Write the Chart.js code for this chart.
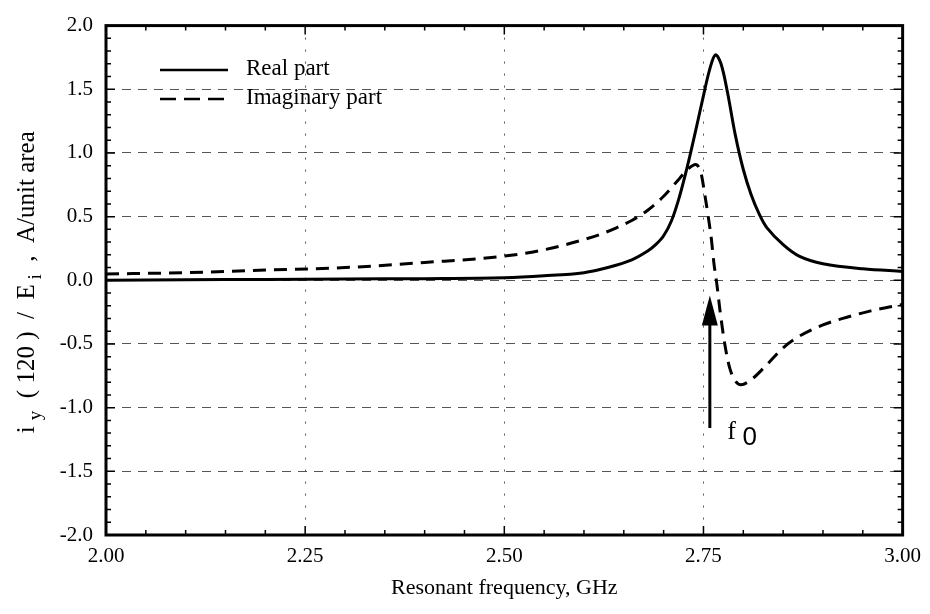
<!DOCTYPE html>
<html>
<head>
<meta charset="utf-8">
<script src="https://cdn.jsdelivr.net/npm/chart.js@4/dist/chart.umd.min.js"></script>
<style>
  html, body { margin: 0; padding: 0; background: #fff; }
  #wrap { width: 930px; height: 614px; }
</style>
</head>
<body>
<div id="wrap"><canvas id="resonance" width="930" height="614"></canvas></div>
<script>
// values (frequency in GHz, current in A/unit area)
const realFreq = [2.00, 2.10, 2.20, 2.30, 2.40, 2.50, 2.55, 2.60, 2.63, 2.66, 2.68, 2.69, 2.70, 2.71, 2.72,
  2.73, 2.74, 2.75, 2.758, 2.765, 2.772, 2.78, 2.79, 2.80, 2.81, 2.82, 2.83, 2.85, 2.87, 2.90, 2.95, 3.00];
const realVal = [0.00, 0.004, 0.007, 0.01, 0.013, 0.02, 0.035, 0.06, 0.10, 0.16, 0.23, 0.28, 0.35, 0.47, 0.66,
  0.90, 1.17, 1.45, 1.66, 1.77, 1.70, 1.48, 1.14, 0.87, 0.67, 0.52, 0.41, 0.28, 0.19, 0.13, 0.09, 0.07];

const imagFreq = [2.00, 2.10, 2.20, 2.30, 2.40, 2.50, 2.55, 2.60, 2.62, 2.64, 2.66, 2.68, 2.70, 2.72, 2.73,
  2.740, 2.747, 2.752, 2.756, 2.760, 2.763, 2.767, 2.771, 2.777, 2.783, 2.790, 2.797, 2.81, 2.83, 2.85,
  2.87, 2.90, 2.93, 2.96, 3.00];
const imagVal = [0.05, 0.06, 0.08, 0.10, 0.14, 0.19, 0.24, 0.32, 0.36, 0.41, 0.47, 0.55, 0.66, 0.80, 0.87,
  0.91, 0.84, 0.66, 0.50, 0.32, 0.14, -0.04, -0.25, -0.51, -0.69, -0.79, -0.82, -0.78, -0.66, -0.53,
  -0.44, -0.35, -0.29, -0.24, -0.19];

const xTickValues = [2.00, 2.25, 2.50, 2.75, 3.00];
const xTickLabels = ['2.00', '2.25', '2.50', '2.75', '3.00'];
const yTickValues = [-2.0, -1.5, -1.0, -0.5, 0.0, 0.5, 1.0, 1.5, 2.0];
const yTickLabels = ['-2.0', '-1.5', '-1.0', '-0.5', '0.0', '0.5', '1.0', '1.5', '2.0'];

const seriesNames = ['Real part', 'Imaginary part'];

// resonance marker f0
const arrowFreq = 2.758;
const arrowTail = -1.16;
const arrowTip = -0.12;

const serif = '"Liberation Serif", "Times New Roman", serif';

function interior(c) {
  return c.index > 0 && c.index < c.chart.scales[c.scale.id].ticks.length - 1 ? '#555' : 'rgba(0,0,0,0)';
}

// frame, inward ticks, legend, titles and the f0 arrow
const decorPlugin = {
  id: 'decor',
  afterDatasetsDraw(chart) {
    const { ctx, chartArea: a, scales: { x, y } } = chart;
    ctx.save();
    ctx.strokeStyle = '#000';
    ctx.fillStyle = '#000';

    // minor + major ticks pointing inward
    ctx.lineWidth = 1.5;
    ctx.beginPath();
    for (let i = 1; i < 20; i++) {
      const px = x.getPixelForValue(2 + i * 0.05);
      const len = i % 5 === 0 ? 9 : 5;
      ctx.moveTo(px, a.bottom); ctx.lineTo(px, a.bottom - len);
      ctx.moveTo(px, a.top); ctx.lineTo(px, a.top + len);
    }
    for (let i = 1; i < 40; i++) {
      const py = y.getPixelForValue(-2 + i * 0.1);
      const len = i % 5 === 0 ? 9 : 5;
      ctx.moveTo(a.left, py); ctx.lineTo(a.left + len, py);
      ctx.moveTo(a.right, py); ctx.lineTo(a.right - len, py);
    }
    ctx.stroke();

    // frame
    ctx.lineWidth = 3;
    ctx.strokeRect(a.left, a.top, a.right - a.left, a.bottom - a.top);

    // arrow to f0
    const ax = x.getPixelForValue(arrowFreq);
    const tipY = y.getPixelForValue(arrowTip);
    const tailY = y.getPixelForValue(arrowTail);
    ctx.lineWidth = 3;
    ctx.beginPath();
    ctx.moveTo(ax, tailY); ctx.lineTo(ax, tipY + 25);
    ctx.stroke();
    ctx.beginPath();
    ctx.moveTo(ax, tipY);
    ctx.lineTo(ax - 8, tipY + 30);
    ctx.lineTo(ax + 8, tipY + 30);
    ctx.closePath();
    ctx.fill();

    ctx.font = '26px ' + serif;
    ctx.textAlign = 'left';
    ctx.textBaseline = 'alphabetic';
    ctx.fillText('f', x.getPixelForValue(2.780), y.getPixelForValue(-1.247));
    ctx.font = '26px "Liberation Sans", Arial, sans-serif';
    ctx.fillText('0', x.getPixelForValue(2.799), y.getPixelForValue(-1.29));

    // legend
    ctx.lineWidth = 2.5;
    ctx.beginPath();
    ctx.moveTo(160, 70); ctx.lineTo(228, 70);
    ctx.stroke();
    ctx.setLineDash([16, 8]);
    ctx.beginPath();
    ctx.moveTo(160, 99); ctx.lineTo(228, 99);
    ctx.stroke();
    ctx.setLineDash([]);
    ctx.font = '23px ' + serif;
    ctx.textBaseline = 'middle';
    ctx.fillText(seriesNames[0], 246, 69);
    ctx.fillText(seriesNames[1], 246, 98);

    // x title
    ctx.font = '22px ' + serif;
    ctx.textAlign = 'center';
    ctx.fillText('Resonant frequency, GHz', (a.left + a.right) / 2, 588);

    // y title with subscripts
    const parts = [
      ['i ', false], ['y', true], ['  ( 120 )  /  E', false], [' i', true], ['  ,  A/unit area', false]
    ];
    const mainFont = '25px ' + serif;
    const subFont = '19px ' + serif;
    let total = 0;
    parts.forEach(([t, sub]) => { ctx.font = sub ? subFont : mainFont; total += ctx.measureText(t).width; });
    ctx.translate(34, (a.top + a.bottom) / 2 + 2);
    ctx.rotate(-Math.PI / 2);
    ctx.textAlign = 'left';
    ctx.textBaseline = 'alphabetic';
    let cx = -total / 2;
    parts.forEach(([t, sub]) => {
      ctx.font = sub ? subFont : mainFont;
      ctx.fillText(t, cx, sub ? 7 : 0);
      cx += ctx.measureText(t).width;
    });
    ctx.restore();
  }
};

new Chart(document.getElementById('resonance'), {
  type: 'line',
  data: {
    datasets: [
      {
        label: seriesNames[0],
        data: realFreq.map((f, i) => ({ x: f, y: realVal[i] })),
        borderColor: '#000',
        borderWidth: 3,
        pointRadius: 0,
        tension: 0.35,
        fill: false
      },
      {
        label: seriesNames[1],
        data: imagFreq.map((f, i) => ({ x: f, y: imagVal[i] })),
        borderColor: '#000',
        borderWidth: 3,
        borderDash: [13, 8],
        pointRadius: 0,
        cubicInterpolationMode: 'monotone',
        fill: false
      }
    ]
  },
  options: {
    responsive: false,
    animation: false,
    layout: { padding: { left: 0, right: 25, top: 20, bottom: 0 } },
    plugins: { legend: { display: false }, tooltip: { enabled: false } },
    scales: {
      x: {
        type: 'linear',
        min: 2, max: 3,
        afterBuildTicks: (s) => { s.ticks = xTickValues.map((v) => ({ value: v })); },
        afterFit: (s) => { s.height = 79; },
        ticks: {
          callback: (v, i) => xTickLabels[i],
          color: '#000',
          font: { family: serif, size: 21 },
          padding: 9,
          maxRotation: 0
        },
        grid: { color: interior, lineWidth: 1, drawTicks: false },
        border: { display: false, dash: [2, 10] }
      },
      y: {
        type: 'linear',
        min: -2, max: 2,
        afterBuildTicks: (s) => { s.ticks = yTickValues.map((v) => ({ value: v })); },
        afterFit: (s) => { s.width = 106; },
        ticks: {
          callback: (v, i) => yTickLabels[i],
          color: '#000',
          font: { family: serif, size: 21 },
          padding: 13
        },
        grid: { color: interior, lineWidth: 1, drawTicks: false },
        border: { display: false, dash: [9, 7] }
      }
    }
  },
  plugins: [decorPlugin]
});
</script>
</body>
</html>
